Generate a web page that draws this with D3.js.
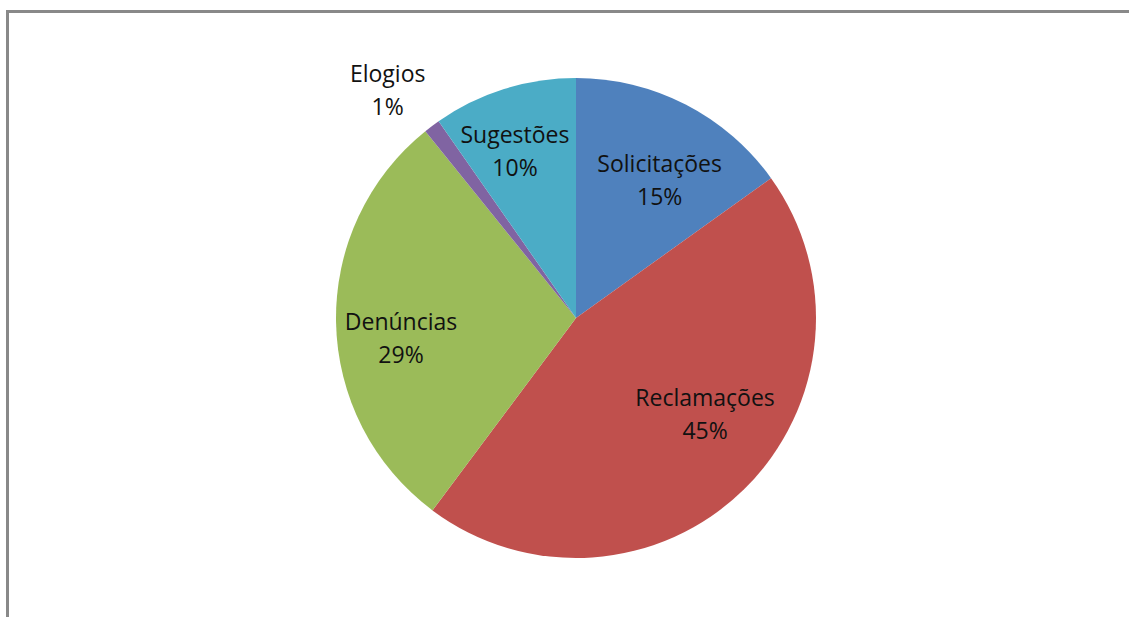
<!DOCTYPE html>
<html>
<head>
<meta charset="utf-8">
<script src="https://cdn.jsdelivr.net/npm/d3@7"></script>
<style>
  body { margin: 0; background: #fff; }
  svg { display: block; }
  .lbl { font-family: "Open Sans", "Liberation Sans", sans-serif; font-size: 23px; fill: #111; }
</style>
</head>
<body>
<svg id="chart" width="1129" height="617"></svg>
<script>
// data
const categories = ["Solicitações", "Reclamações", "Denúncias", "Elogios", "Sugestões"];
const values = [15.1, 45.1, 29.0, 1.1, 9.7];
const percentLabels = ["15%", "45%", "29%", "1%", "10%"];
const colors = ["#4F81BD", "#C0504D", "#9BBB59", "#8064A2", "#4BACC6"];

const width = 1129, height = 617,
    cx = 576, cy = 318, radius = 240,
    lineGap = 33;

// small hand nudges so the labels sit where Excel's "best fit" put them
const labelNudge = {
    "Solicitações": [6, 13],
    "Reclamações": [10, -25],
    "Denúncias": [-5, 17],
    "Elogios": [-13, 6],
    "Sugestões": [-10, -5]
};

const svg = d3.select("#chart");

// chart frame (only top and left edges show in the shot)
svg.append("rect")
    .attr("x", 7.5).attr("y", 11.5)
    .attr("width", width + 20).attr("height", height + 20)
    .attr("fill", "none")
    .attr("stroke", "#898989")
    .attr("stroke-width", 3);

const data = categories.map((c, i) => ({name: c, value: values[i], pct: percentLabels[i], color: colors[i]}));

const pie = d3.pie().sort(null).value(d => d.value);
const arc = d3.arc().innerRadius(0).outerRadius(radius);
const labelArc = d3.arc().innerRadius(170).outerRadius(170);
const outerLabelArc = d3.arc().innerRadius(292).outerRadius(292);

const g = svg.append("g").attr("transform", `translate(${cx},${cy})`);

const arcs = pie(data);

g.selectAll("path.slice")
    .data(arcs)
    .enter()
    .append("path")
    .attr("class", "slice")
    .attr("d", arc)
    .attr("fill", d => d.data.color);

const labels = g.selectAll("text.lbl")
    .data(arcs)
    .enter()
    .append("text")
    .attr("class", "lbl")
    .attr("text-anchor", "middle")
    .attr("transform", function (d) {
        const small = d.endAngle - d.startAngle < 0.2;
        const p = (small ? outerLabelArc : labelArc).centroid(d);
        const n = labelNudge[d.data.name] || [0, 0];
        return `translate(${p[0] + n[0]},${p[1] + n[1]})`;
    });

// first baseline sits a bit above the block centre
labels.append("tspan")
    .attr("x", 0).attr("y", -8)
    .text(d => d.data.name);
labels.append("tspan")
    .attr("x", 0).attr("y", -8 + lineGap)
    .text(d => d.data.pct);
</script>
</body>
</html>
